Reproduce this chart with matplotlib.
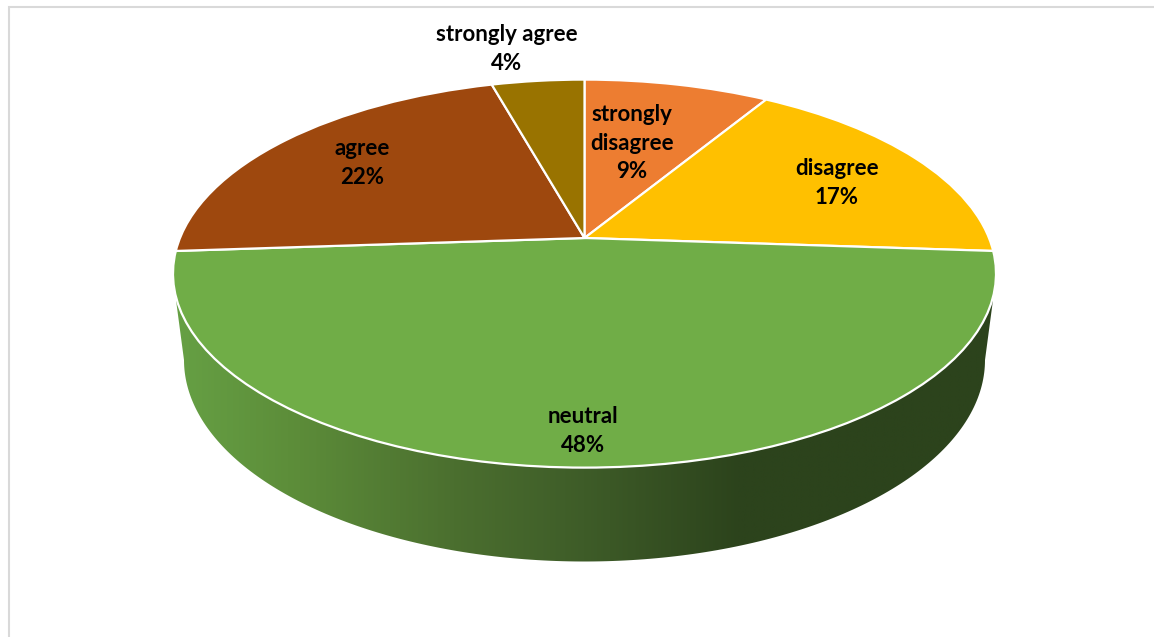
import numpy as np
import matplotlib
matplotlib.use("Agg")
import matplotlib.pyplot as plt
from matplotlib.colors import LinearSegmentedColormap
from matplotlib.patches import Polygon
from matplotlib.transforms import Transform

categories = ["strongly\ndisagree", "disagree", "neutral", "agree", "strongly agree"]
values = [2, 4, 11, 5, 1]
colors = ["#ED7D31", "#FFC000", "#70AD47", "#9E480E", "#997300"]
label_xy = [(632, 143), (837, 183), (583, 431), (362, 163), (507, 49)]

W, H = 1154, 637
CX, CY = 584.5, 238.0      # projected pie centre
A, B, K = 404.5, -143.8, 0.1835  # tilt of the projected disc


class Tilt(Transform):
    """Projects the unit-circle pie onto the tilted top face (pixel coords)."""
    input_dims = output_dims = 2
    has_inverse = False

    def transform_non_affine(self, xy):
        xy = np.asarray(xy, float)
        d = 1 + K * xy[:, 1]
        return np.column_stack((CX + A * xy[:, 0] / d, (CY + B * xy[:, 1]) / d))


fig = plt.figure(figsize=(W / 100, H / 100), dpi=100, facecolor="white")
ax = fig.add_axes([0, 0, 1, 1])

wedges, _ = ax.pie(values, colors=colors, startangle=90, counterclock=False,
                   wedgeprops=dict(edgecolor="white", linewidth=1.6))
tilt = Tilt()
for w in wedges:
    w.set_transform(tilt + ax.transData)
    w.set_zorder(3)

ax.set_aspect("auto")
ax.set_axis_off()

# side wall of the pie, shaded left to right
t = np.linspace(np.pi, 0, 200)
wall_x = np.r_[176, 584.5 + 400.5 * np.cos(t), 993, 993, 176]
wall_y = np.r_[300, 360 + 201.5 * np.sin(t), 300, 250, 250]
wall = Polygon(np.column_stack((wall_x, wall_y)), closed=True, transform=ax.transData,
               facecolor="none", edgecolor="none")
ax.add_patch(wall)
cmap = LinearSegmentedColormap.from_list("wall", [
    (0.0, "#66A044"), (0.15, "#5C8C39"), (0.34, "#4B6F2F"),
    (0.50, "#3E5C28"), (0.69, "#2C431C"), (1.0, "#2C431C")])
img = ax.imshow(np.linspace(0, 1, 512)[None, :], cmap=cmap, aspect="auto",
                extent=(176, 993, 570, 250), zorder=1, interpolation="bilinear")
img.set_clip_path(wall)

ax.set_xlim(0, W)
ax.set_ylim(H, 0)

# chart-area border, cut off by the crop
ax.plot([8.5, 8.5, 1154], [H, 7, 7], color="#D9D9D9", lw=1.5, zorder=0,
        solid_joinstyle="miter")

total = sum(values)
for name, val, (x, y) in zip(categories, values, label_xy):
    ax.text(x, y, f"{name}\n{round(100 * val / total)}%", ha="center", va="center",
            ma="center", fontsize=16, fontweight="bold", family="Lato", color="black",
            linespacing=1.42, zorder=5)

fig.savefig("out.png", dpi=100, facecolor="white")
